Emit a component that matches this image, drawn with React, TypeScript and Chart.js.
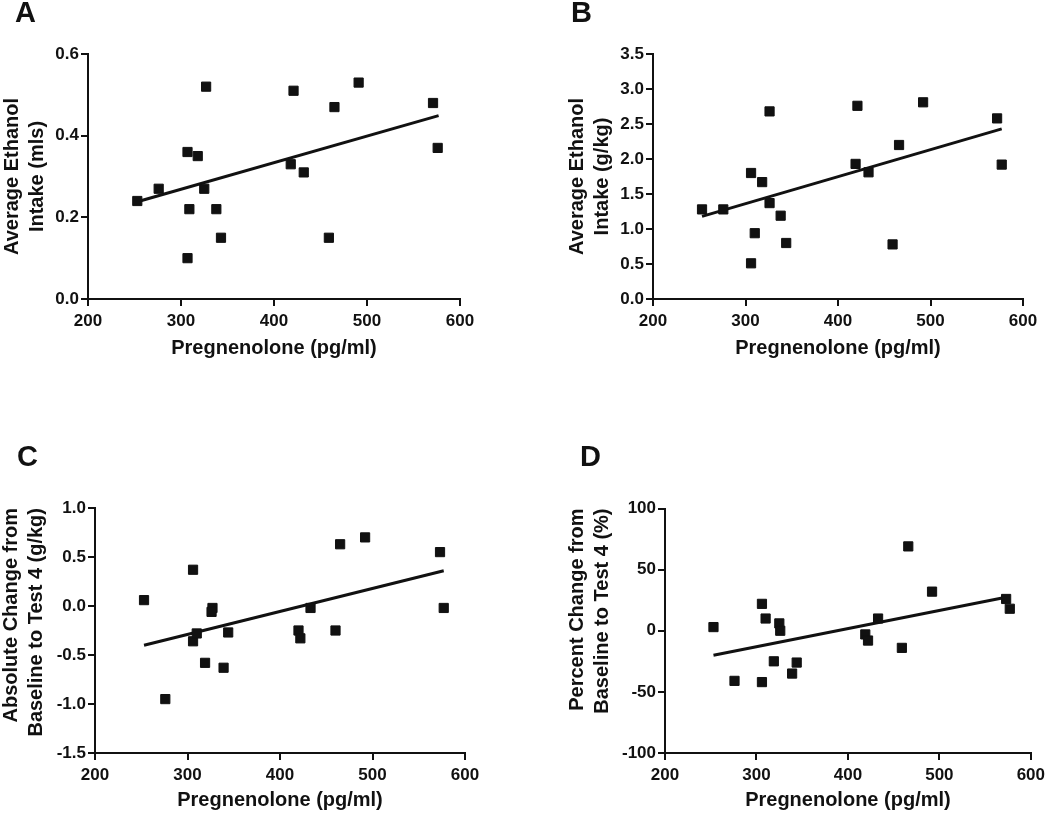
import React, { useEffect, useRef } from 'react';
import { Chart, registerables } from 'chart.js';

Chart.register(...registerables);

// ---------- shared axis data ----------
const xTicks = [200, 300, 400, 500, 600];
const xTickLabels = ['200', '300', '400', '500', '600'];
const xTitle = 'Pregnenolone (pg/ml)';

// ---------- Panel A ----------
const pregA = [253, 276, 307, 307, 309, 318, 327, 325, 338, 343, 418, 421, 432, 459, 465, 491, 571, 576];
const intakeMls = [0.24, 0.27, 0.36, 0.10, 0.22, 0.35, 0.52, 0.27, 0.22, 0.15, 0.33, 0.51, 0.31, 0.15, 0.47, 0.53, 0.48, 0.37];
const fitAx = [253, 577];
const fitAy = [0.238, 0.449];
const yTicksA = [0, 0.2, 0.4, 0.6];
const yLabelsA = ['0.0', '0.2', '0.4', '0.6'];
const yTitleA = ['Average Ethanol', 'Intake (mls)'];

// ---------- Panel B ----------
const pregB = [253, 276, 306, 306, 310, 318, 326, 326, 338, 344, 419, 421, 433, 459, 466, 492, 572, 577];
const intakeGkg = [1.28, 1.28, 1.80, 0.51, 0.94, 1.67, 2.68, 1.37, 1.19, 0.80, 1.93, 2.76, 1.81, 0.78, 2.20, 2.81, 2.58, 1.92];
const fitBx = [253, 577];
const fitBy = [1.18, 2.43];
const yTicksB = [0, 0.5, 1, 1.5, 2, 2.5, 3, 3.5];
const yLabelsB = ['0.0', '0.5', '1.0', '1.5', '2.0', '2.5', '3.0', '3.5'];
const yTitleB = ['Average Ethanol', 'Intake (g/kg)'];

// ---------- Panel C ----------
const pregC = [253, 276, 306, 306, 310, 319, 327, 326, 339, 344, 420, 422, 433, 460, 465, 492, 573, 577];
const absChange = [0.06, -0.95, 0.37, -0.36, -0.28, -0.58, -0.02, -0.06, -0.63, -0.27, -0.25, -0.33, -0.02, -0.25, 0.63, 0.70, 0.55, -0.02];
const fitCx = [253, 577];
const fitCy = [-0.40, 0.36];
const yTicksC = [-1.5, -1, -0.5, 0, 0.5, 1];
const yLabelsC = ['-1.5', '-1.0', '-0.5', '0.0', '0.5', '1.0'];
const yTitleC = ['Absolute Change from', 'Baseline to Test 4 (g/kg)'];

// ---------- Panel D ----------
const pregD = [253, 276, 306, 306, 310, 319, 325, 326, 339, 344, 419, 422, 433, 459, 466, 492, 573, 577];
const pctChange = [3, -41, 22, -42, 10, -25, 6, 0, -35, -26, -3, -8, 10, -14, 69, 32, 26, 18];
const fitDx = [253, 577];
const fitDy = [-20, 28];
const yTicksD = [-100, -50, 0, 50, 100];
const yLabelsD = ['-100', '-50', '0', '50', '100'];
const yTitleD = ['Percent Change from', 'Baseline to Test 4 (%)'];

// ---------- layout / style ----------
const INK = '#111111';
const FONT = "'Liberation Sans', Arial, Helvetica, sans-serif";

type PanelSpec = {
  letter: string;
  xs: number[];
  ys: number[];
  fitX: number[];
  fitY: number[];
  yTicks: number[];
  yLabels: string[];
  yTitle: string[];
  layout: {
    left: number; top: number; width: number; height: number;
    padLeft: number; padRight: number; yWidth: number; xHeight: number;
    letterPadTop: number; letterPadBottom: number;
    yTitlePad: number; yTitleAlign: 'center' | 'end'; xTitlePadBottom: number;
  };
};

const panels: PanelSpec[] = [
  {
    letter: 'A', xs: pregA, ys: intakeMls, fitX: fitAx, fitY: fitAy,
    yTicks: yTicksA, yLabels: yLabelsA, yTitle: yTitleA,
    layout: { left: 0, top: 0, width: 520, height: 400, padLeft: 15, padRight: 60, yWidth: 73, xHeight: 101,
      letterPadTop: -1, letterPadBottom: 26, yTitlePad: -15.2, yTitleAlign: 'center', xTitlePadBottom: 39.5 },
  },
  {
    letter: 'B', xs: pregB, ys: intakeGkg, fitX: fitBx, fitY: fitBy,
    yTicks: yTicksB, yLabels: yLabelsB, yTitle: yTitleB,
    layout: { left: 520, top: 0, width: 530, height: 400, padLeft: 51, padRight: 27, yWidth: 82, xHeight: 101,
      letterPadTop: -1, letterPadBottom: 26, yTitlePad: -6, yTitleAlign: 'center', xTitlePadBottom: 39.5 },
  },
  {
    letter: 'C', xs: pregC, ys: absChange, fitX: fitCx, fitY: fitCy,
    yTicks: yTicksC, yLabels: yLabelsC, yTitle: yTitleC,
    layout: { left: 0, top: 400, width: 520, height: 413, padLeft: 17, padRight: 55, yWidth: 78, xHeight: 60,
      letterPadTop: 43, letterPadBottom: 36, yTitlePad: -18.5, yTitleAlign: 'end', xTitlePadBottom: 0.5 },
  },
  {
    letter: 'D', xs: pregD, ys: pctChange, fitX: fitDx, fitY: fitDy,
    yTicks: yTicksD, yLabels: yLabelsD, yTitle: yTitleD,
    layout: { left: 520, top: 400, width: 530, height: 413, padLeft: 60, padRight: 14, yWidth: 85, xHeight: 60,
      letterPadTop: 43, letterPadBottom: 36.5, yTitlePad: -15, yTitleAlign: 'end', xTitlePadBottom: 0.5 },
  },
];

function Panel({ spec }: { spec: PanelSpec }) {
  const ref = useRef<HTMLCanvasElement>(null);

  useEffect(() => {
    const L = spec.layout;
    const yMin = spec.yTicks[0];
    const yMax = spec.yTicks[spec.yTicks.length - 1];
    const chart = new Chart(ref.current as HTMLCanvasElement, {
      type: 'scatter',
      data: {
        datasets: [
          {
            type: 'scatter',
            data: spec.xs.map((x, i) => ({ x, y: spec.ys[i] })),
            pointStyle: 'rect',
            pointRadius: 6.5,
            backgroundColor: INK,
            borderColor: INK,
            borderWidth: 1,
            order: 1,
          },
          {
            type: 'line',
            data: spec.fitX.map((x, i) => ({ x, y: spec.fitY[i] })),
            borderColor: INK,
            borderWidth: 3,
            pointRadius: 0,
            fill: false,
            tension: 0,
            order: 2,
          },
        ],
      } as any,
      options: {
        responsive: false,
        animation: false,
        font: { family: FONT },
        layout: { padding: { left: L.padLeft, right: L.padRight, top: 0, bottom: 0 } },
        plugins: {
          legend: { display: false },
          tooltip: { enabled: false },
          title: {
            display: true,
            text: spec.letter,
            align: 'start',
            color: INK,
            font: { family: FONT, size: 29, weight: 'bold', lineHeight: 1 },
            padding: { top: L.letterPadTop, bottom: L.letterPadBottom },
          },
        },
        scales: {
          x: {
            type: 'linear',
            min: xTicks[0],
            max: xTicks[xTicks.length - 1],
            afterBuildTicks: (s: any) => { s.ticks = xTicks.map((v) => ({ value: v })); },
            afterFit: (s: any) => { s.height = L.xHeight; },
            ticks: {
              callback: (v: any) => xTickLabels[xTicks.indexOf(Number(v))] ?? String(v),
              color: INK,
              font: { family: FONT, size: 17, weight: 'bold' },
              padding: 5,
              maxRotation: 0,
              autoSkip: false,
            },
            grid: { drawOnChartArea: false, drawTicks: true, tickLength: 7, color: INK, lineWidth: 2 },
            border: { display: true, color: INK, width: 2 },
            title: {
              display: true,
              text: xTitle,
              color: INK,
              font: { family: FONT, size: 20, weight: 'bold', lineHeight: 1.2 },
              padding: { top: 0, bottom: L.xTitlePadBottom },
            },
          },
          y: {
            type: 'linear',
            min: yMin,
            max: yMax,
            afterBuildTicks: (s: any) => { s.ticks = spec.yTicks.map((v) => ({ value: v })); },
            afterFit: (s: any) => { s.width = L.yWidth; },
            ticks: {
              callback: (v: any) => spec.yLabels[spec.yTicks.indexOf(Number(v))] ?? String(v),
              color: INK,
              font: { family: FONT, size: 17, weight: 'bold' },
              padding: 2,
              autoSkip: false,
            },
            grid: { drawOnChartArea: false, drawTicks: true, tickLength: 7, color: INK, lineWidth: 2 },
            border: { display: true, color: INK, width: 2 },
            title: {
              display: true,
              text: spec.yTitle,
              align: L.yTitleAlign,
              color: INK,
              font: { family: FONT, size: 20, weight: 'bold', lineHeight: 1.25 },
              padding: { top: L.yTitlePad, bottom: 0 },
            },
          },
        },
      } as any,
    });
    return () => chart.destroy();
  }, [spec]);

  const L = spec.layout;
  return (
    <canvas
      ref={ref}
      width={L.width}
      height={L.height}
      style={{ position: 'absolute', left: L.left, top: L.top, width: L.width, height: L.height, display: 'block' }}
    />
  );
}

export default function App() {
  return (
    <div style={{ position: 'absolute', left: 0, top: 0, width: 1050, height: 813, background: '#ffffff', overflow: 'hidden' }}>
      {panels.map((p) => (
        <Panel key={p.letter} spec={p} />
      ))}
    </div>
  );
}
